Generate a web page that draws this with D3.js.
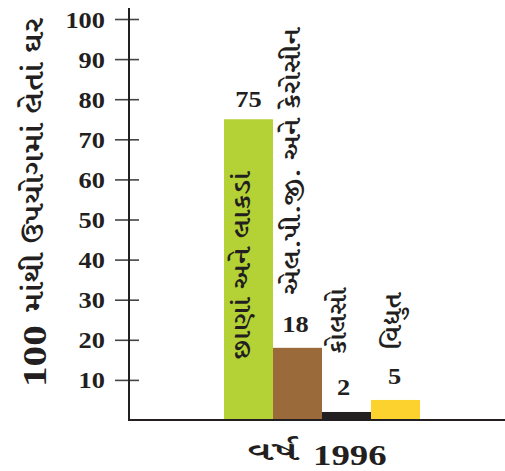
<!DOCTYPE html>
<html><head><meta charset="utf-8">
<script src="https://cdn.jsdelivr.net/npm/d3@7"></script>
<style>html,body{margin:0;padding:0;background:#fff;}</style>
</head><body>
<svg id="c" width="505" height="471"></svg>
<script>
const categories = ["છાણાં અને લાકડાં", "એલ.પી.જી. અને કેરોસીન", "કોલસો", "વિદ્યુત"];
const values = [75, 18, 2, 5];
const colors = ["#b4d235", "#9a6a3a", "#231f20", "#fcd22e"];
const yTicks = [10, 20, 30, 40, 50, 60, 70, 80, 90, 100];
const yTitleNum = "100";
const yTitleText = "માંથી ઉપયોગમાં લેતાં ઘર";
const xTitleWord = "વર્ષ";
const xTitleYear = "1996";

const svg = d3.select("#c");
const SERIF = "'Liberation Serif','Noto Serif Gujarati',serif";
const GUJ = "'Noto Serif Gujarati','Liberation Serif',serif";
const INK = "#231f20";

const y = d3.scaleLinear().domain([0, 100]).range([420, 19]);
const x = d3.scaleBand().domain(categories).range([224, 420]).padding(0);

// bars
svg.selectAll("rect.bar").data(values).join("rect")
  .attr("class", "bar")
  .attr("x", (d, i) => x(categories[i]))
  .attr("width", x.bandwidth())
  .attr("y", d => y(d))
  .attr("height", d => y(0) - y(d))
  .attr("fill", (d, i) => colors[i]);

// y axis
const axisX = 129;
const yAxis = d3.axisLeft(y).tickValues(yTicks).tickSize(0).tickPadding(0).tickFormat(d3.format("d"));
const gy = svg.append("g").attr("transform", `translate(${axisX},0)`).call(yAxis);
gy.select(".domain").remove();
gy.selectAll(".tick line").remove();
gy.selectAll(".tick").append("line")
  .attr("x1", -14).attr("x2", 10).attr("y1", 0).attr("y2", 0)
  .attr("stroke", "#444").attr("stroke-width", 1.6);
gy.selectAll(".tick text")
  .attr("x", 0).attr("dy", null)
  .attr("text-anchor", "end")
  .attr("dominant-baseline", "central")
  .attr("transform", "translate(-24,0) scale(1.1,1)")
  .attr("fill", INK)
  .style("font-family", SERIF).style("font-weight", "bold").style("font-size", "24px");
svg.append("line").attr("x1", axisX).attr("x2", axisX).attr("y1", 8).attr("y2", y(0))
  .attr("stroke", INK).attr("stroke-width", 2);

// x axis baseline
svg.append("line").attr("x1", axisX - 1).attr("x2", 505).attr("y1", y(0)).attr("y2", y(0))
  .attr("stroke", INK).attr("stroke-width", 2);

// value labels
const valueOffsets = [{dx: 0, dy: 12}, {dx: -2, dy: 16}, {dx: -3, dy: 17}, {dx: -1, dy: 16}];
svg.selectAll("text.val").data(values).join("text")
  .attr("class", "val")
  .attr("transform", (d, i) => `translate(${x(categories[i]) + x.bandwidth() / 2 + valueOffsets[i].dx},${y(d) - valueOffsets[i].dy}) scale(1.1,1)`)
  .attr("text-anchor", "middle")
  .attr("fill", INK)
  .style("font-family", SERIF).style("font-weight", "bold").style("font-size", "24px")
  .text(d => d);

// category labels (rotated)
const catPos = [
  {dx: -5, y: 360, len: 188},
  {dx: -4, y: 295, len: 267},
  {dx: -7, y: 355, len: 67},
  {dx: -1, y: 350, len: 57}
];
svg.selectAll("text.cat").data(categories).join("text")
  .attr("class", "cat")
  .attr("transform", (d, i) => `translate(${x(d) + x.bandwidth() / 2 + catPos[i].dx},${catPos[i].y}) rotate(-90)`)
  .attr("text-anchor", "start")
  .attr("dominant-baseline", "central")
  .attr("textLength", (d, i) => catPos[i].len)
  .attr("lengthAdjust", "spacingAndGlyphs")
  .attr("fill", INK)
  .style("font-family", GUJ).style("font-size", "24px").style("font-weight", 600)
  .text(d => d);

// y title
const yt = svg.append("text")
  .attr("transform", "translate(35,387) scale(1.3,1) rotate(-90)")
  .attr("text-anchor", "start")
  .attr("dominant-baseline", "central")
  .attr("textLength", 369)
  .attr("lengthAdjust", "spacingAndGlyphs")
  .attr("fill", INK);
yt.append("tspan").style("font-family", SERIF).style("font-weight", "bold").style("font-size", "26px").text(yTitleNum);
yt.append("tspan").attr("dx", 8).style("font-family", GUJ).style("font-weight", 600).style("font-size", "21px").text(yTitleText);

// x title
svg.append("text")
  .attr("x", 247).attr("y", 460)
  .attr("textLength", 51).attr("lengthAdjust", "spacingAndGlyphs")
  .attr("fill", INK)
  .style("font-family", GUJ).style("font-weight", 600).style("font-size", "26px")
  .text(xTitleWord);
svg.append("text")
  .attr("transform", "translate(313,465) scale(1.27,1)")
  .attr("fill", INK)
  .style("font-family", SERIF).style("font-weight", "bold").style("font-size", "29px")
  .text(xTitleYear);
</script>
</body></html>
